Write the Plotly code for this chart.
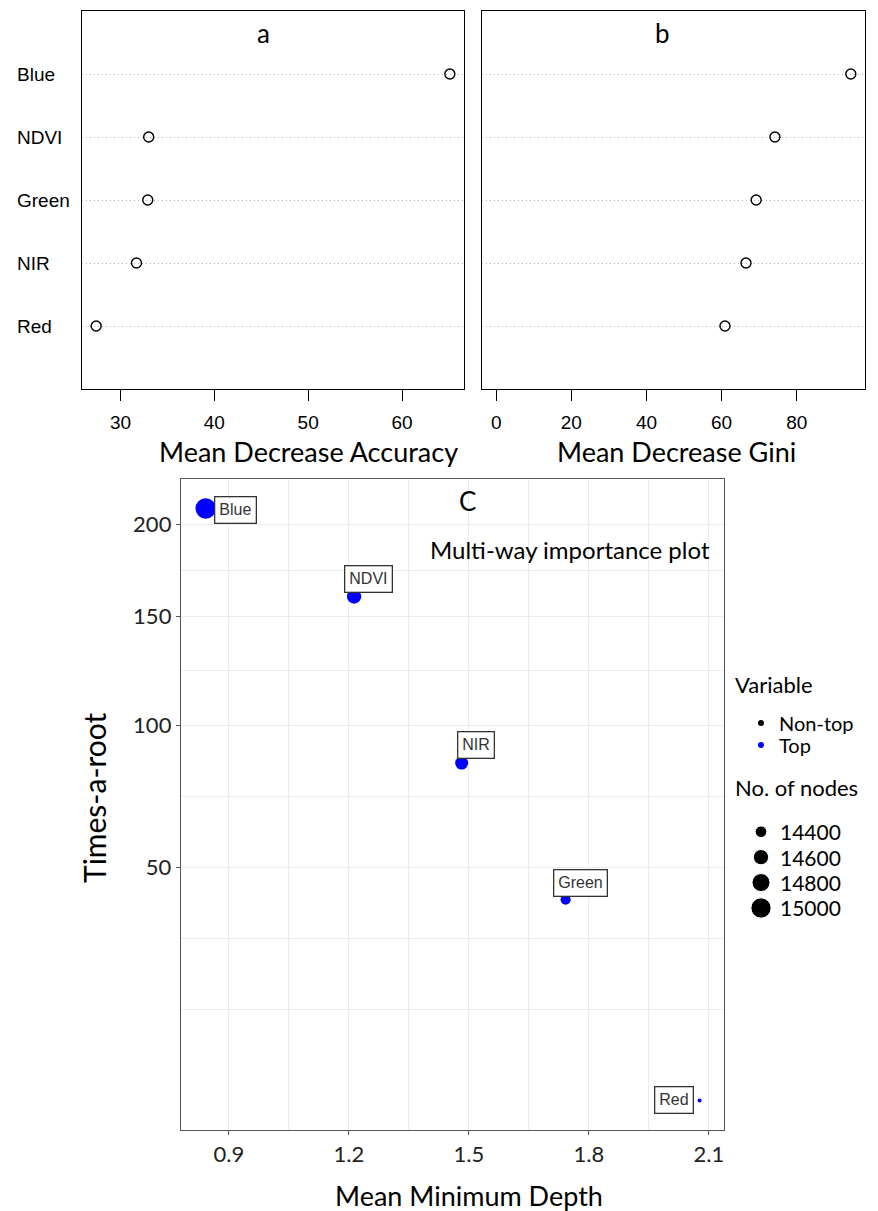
import numpy as np
import plotly.graph_objects as go

# ---------------- data ----------------
variables = ["Blue", "NDVI", "Green", "NIR", "Red"]          # dotchart order, top to bottom
mean_decrease_accuracy = [65.1, 33.0, 32.9, 31.7, 27.4]
mean_decrease_gini = [94.4, 74.2, 69.2, 66.5, 60.9]
accuracy_ticks = [30, 40, 50, 60]
gini_ticks = [0, 20, 40, 60, 80]

mw_variables = ["Blue", "NDVI", "NIR", "Green", "Red"]
mean_min_depth = [0.842, 1.213, 1.482, 1.742, 2.077]
times_a_root = [209.4, 160.2, 85.0, 41.0, 5.1]
no_of_nodes = [15020, 14540, 14465, 14340, 14230]
variable_class = ["Top", "Top", "Top", "Top", "Top"]
depth_ticks = [0.9, 1.2, 1.5, 1.8, 2.1]
root_ticks = [50, 100, 150, 200]

legend_classes = ["Non-top", "Top"]
legend_nodes = [14400, 14600, 14800, 15000]

# ---------------- style ----------------
W, H = 878, 1211
def fx(px): return px / W
def fy(py): return 1 - py / H

CAL = "Lato"
ARI = "Liberation Sans"
class_colors = {"Non-top": "#000000", "Top": "#0000FF"}
label_shift = {"Blue": (30, -1), "NDVI": (14, 17), "NIR": (14, 18),
               "Green": (15, 17), "Red": (-26, 0)}

nmin, nmax = min(no_of_nodes), max(no_of_nodes)
def node_size(v):
    r = np.clip((np.asarray(v, float) - nmin) / (nmax - nmin), 0, 1)
    return 4 + 16.5 * np.sqrt(r)

def r_range(vals, include_zero=False):
    lo, hi = min(vals), max(vals)
    if include_zero:
        lo = min(lo, 0)
    d = (hi - lo) * 0.04
    return [lo - d, hi + d]

def gg_range(vals):
    lo, hi = min(vals), max(vals)
    d = (hi - lo) * 0.05
    return [lo - d, hi + d]

def minor_breaks(b, lim):
    b = list(b)
    bd = b[1] - b[0]
    if lim[0] < b[0]:
        b = [b[0] - bd] + b
    if lim[1] > b[-1]:
        b = b + [b[-1] + bd]
    mids = [(b[i] + b[i + 1]) / 2 for i in range(len(b) - 1)]
    return [m for m in mids + [b[0], b[-1]] if lim[0] <= m <= lim[1]]

fig = go.Figure()

cat_order = variables[::-1]

# panel a
fig.add_trace(go.Scatter(
    x=mean_decrease_accuracy, y=variables, mode="markers",
    marker=dict(symbol="circle-open", size=10, color="black", line=dict(width=1.4)),
    xaxis="x", yaxis="y", showlegend=False, hoverinfo="skip"))
# panel b
fig.add_trace(go.Scatter(
    x=mean_decrease_gini, y=variables, mode="markers",
    marker=dict(symbol="circle-open", size=10, color="black", line=dict(width=1.4)),
    xaxis="x2", yaxis="y2", showlegend=False, hoverinfo="skip"))

# panel c
y_sqrt = np.sqrt(times_a_root)
fig.add_trace(go.Scatter(
    x=mean_min_depth, y=y_sqrt, mode="markers",
    marker=dict(size=node_size(no_of_nodes), opacity=1,
                color=[class_colors[c] for c in variable_class], line=dict(width=0)),
    xaxis="x3", yaxis="y3", showlegend=False, hoverinfo="skip"))

# legend: Variable
fig.add_trace(go.Scatter(
    x=[0] * len(legend_classes), y=list(range(len(legend_classes))), mode="markers",
    marker=dict(size=6, opacity=1, color=[class_colors[c] for c in legend_classes]),
    xaxis="x4", yaxis="y4", showlegend=False, hoverinfo="skip"))
# legend: No. of nodes
fig.add_trace(go.Scatter(
    x=[0] * len(legend_nodes), y=list(range(len(legend_nodes))), mode="markers",
    marker=dict(size=node_size(legend_nodes), opacity=1, color="black"),
    xaxis="x5", yaxis="y5", showlegend=False, hoverinfo="skip"))

xr3 = gg_range(mean_min_depth)
yr3 = gg_range(list(y_sqrt))
sq_ticks = list(np.sqrt(root_ticks))

box = dict(showline=True, mirror=True, linecolor="black", linewidth=1.4, zeroline=False)
top_x = dict(ticks="outside", ticklen=11, tickwidth=1.2, tickcolor="black", showgrid=False,
             tickfont=dict(family=ARI, size=19, color="black"), ticklabelstandoff=5, **box)
top_y = dict(type="category", categoryorder="array", categoryarray=cat_order, range=[-1, 5],
             showticklabels=False, ticks="", showgrid=True, griddash="1px,3px",
             gridcolor="#b4b4b4", gridwidth=1.3, **box)

grid_c = "#ebebeb"
box_c = dict(showline=True, mirror=True, linecolor="#555555", linewidth=1.4, zeroline=False,
             ticks="outside", ticklen=4, tickwidth=1, tickcolor="#555555",
             showgrid=True, gridcolor=grid_c, gridwidth=1.2,
             tickfont=dict(family=CAL, size=22, color="#222222"))

aux = dict(visible=False, showgrid=False, zeroline=False, fixedrange=True)

fig.update_layout(
    width=W, height=H, margin=dict(l=0, r=0, t=0, b=0),
    paper_bgcolor="white", plot_bgcolor="white",
    xaxis=dict(domain=[fx(82), fx(464)], range=r_range(mean_decrease_accuracy),
               tickvals=accuracy_ticks, anchor="y", **top_x),
    yaxis=dict(domain=[fy(389), fy(11)], anchor="x", **top_y),
    xaxis2=dict(domain=[fx(482), fx(865)], range=r_range(mean_decrease_gini, True),
                tickvals=gini_ticks, anchor="y2", **top_x),
    yaxis2=dict(domain=[fy(389), fy(11)], anchor="x2", **top_y),
    xaxis3=dict(domain=[fx(181), fx(724.3)], range=xr3, tickvals=depth_ticks,
                ticktext=[f"{t:.1f}" for t in depth_ticks], anchor="y3",
                minor=dict(tickvals=minor_breaks(depth_ticks, xr3), showgrid=True,
                           gridcolor=grid_c, gridwidth=1, ticks=""),
                **box_c),
    yaxis3=dict(domain=[fy(1130), fy(479)], range=yr3, tickvals=sq_ticks,
                ticktext=[str(t) for t in root_ticks], anchor="x3",
                minor=dict(tickvals=minor_breaks(sq_ticks, yr3), showgrid=True,
                           gridcolor=grid_c, gridwidth=1, ticks=""),
                **box_c),
    xaxis4=dict(domain=[fx(748), fx(878)], range=[-1, 9], anchor="y4", **aux),
    yaxis4=dict(domain=[fy(756), fy(712)], range=[len(legend_classes) - 0.5, -0.5],
                anchor="x4", **aux),
    xaxis5=dict(domain=[fx(748), fx(878)], range=[-1, 9], anchor="y5", **aux),
    yaxis5=dict(domain=[fy(920.7), fy(819)], range=[len(legend_nodes) - 0.5, -0.5],
                anchor="x5", **aux),
)

ann = []
def txt(text, x, y, size, family=CAL, xanchor="center", angle=0, color="black"):
    ann.append(dict(text=text, x=fx(x), y=fy(y), xref="paper", yref="paper",
                    showarrow=False, xanchor=xanchor, yanchor="middle", textangle=angle,
                    font=dict(family=family, size=size, color=color)))

# panel titles & axis titles
txt("a", 263, 33, 26)
txt("b", 662, 33, 26)
txt("Mean Decrease Accuracy", 308, 451, 27)
txt("Mean Decrease Gini", 676, 451, 27)
txt("C", 467, 501, 26)
txt("Multi-way importance plot", 570, 549, 24)
txt("Mean Minimum Depth", 469, 1195, 27)
txt("Times-a-root", 94, 798, 30, angle=-90)
txt("Variable", 733, 684, 22, xanchor="left")
txt("No. of nodes", 733, 787, 22, xanchor="left")

# dotchart category labels (left-aligned, as in R)
for v in variables:
    ann.append(dict(text=v, x=fx(15), y=v, xref="paper", yref="y", showarrow=False,
                    xanchor="left", yanchor="middle",
                    font=dict(family=ARI, size=19, color="black")))

# geom_label style labels
for v, xv, yv in zip(mw_variables, mean_min_depth, y_sqrt):
    dx, dy = label_shift[v]
    ann.append(dict(text=v, x=xv, y=yv, xref="x3", yref="y3", showarrow=False,
                    xshift=dx, yshift=dy, xanchor="center", yanchor="middle",
                    bgcolor="white", bordercolor="#333333", borderwidth=1.3, borderpad=4,
                    font=dict(family=ARI, size=16, color="#333333")))

# legend texts
for i, c in enumerate(legend_classes):
    ann.append(dict(text=c, x=1.2, y=i, xref="x4", yref="y4", showarrow=False,
                    xanchor="left", yanchor="middle", font=dict(family=CAL, size=20, color="black")))
for i, v in enumerate(legend_nodes):
    ann.append(dict(text=str(v), x=1.3, y=i, xref="x5", yref="y5", showarrow=False,
                    xanchor="left", yanchor="middle", font=dict(family=CAL, size=21, color="black")))

fig.update_layout(annotations=ann)
fig.write_html("out.html", config={"displayModeBar": False},
               post_script="document.body.style.margin='0';document.body.style.overflow='hidden';")
